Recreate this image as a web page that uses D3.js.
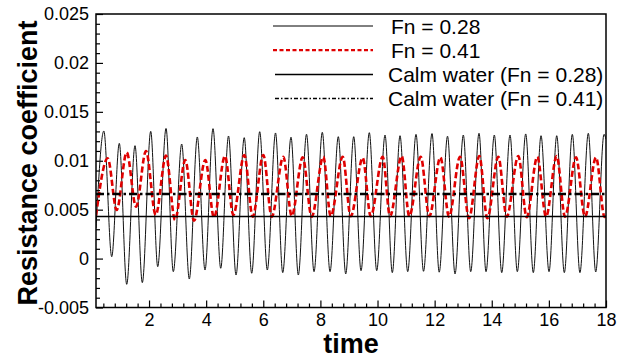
<!DOCTYPE html>
<meta charset='utf-8'>
<html>

<head>
    <title>Resistance coefficient</title>
    <script src="https://d3js.org/d3.v7.min.js"></script>

    <style>
        body {
            padding: 0;
            margin: 0;
            background: #fff;
        }

        svg {
            display: block;
            font-family: "Liberation Sans", Arial, sans-serif;
        }

        .tick text {
            font-size: 18px;
            fill: #000;
        }
    </style>
</head>

<body>
    <svg id="chart" width="625" height="358"></svg>

    <script>
        // extrema: [time, coefficient]
        var fn028 = [
            [0.143, 0.0031],
            [0.417, 0.01304], [0.693, 0.00019], [0.959, 0.01178], [1.218, -0.00263], [1.509, 0.01154],
            [1.765, -0.00246], [2.059, 0.01301], [2.304, -0.00083], [2.595, 0.01330], [2.850, -0.00134],
            [3.144, 0.01171], [3.410, -0.00209], [3.690, 0.01243], [3.960, -0.00117], [4.240, 0.01328],
            [4.510, -0.00099], [4.783, 0.01253], [5.046, -0.00168], [5.333, 0.01236], [5.595, -0.00150],
            [5.875, 0.01297], [6.141, -0.00117], [6.429, 0.01284], [6.681, -0.00144], [6.971, 0.01241],
            [7.227, -0.00168], [7.514, 0.01271], [7.777, -0.00134], [8.067, 0.01291], [8.337, -0.00134],
            [8.627, 0.01246], [8.887, -0.00157], [9.167, 0.01246], [9.422, -0.00124], [9.713, 0.01287],
            [9.972, -0.00124], [10.263, 0.01263], [10.518, -0.00144], [10.788, 0.01256], [11.057, -0.00134],
            [11.348, 0.01270], [11.611, -0.00130], [11.908, 0.01278], [12.160, -0.00139], [12.451, 0.01251],
            [12.714, -0.00157], [13.004, 0.01263], [13.263, -0.00134], [13.554, 0.01281], [13.799, -0.00134],
            [14.090, 0.01263], [14.349, -0.00144], [14.639, 0.01263], [14.895, -0.00134], [15.189, 0.01274],
            [15.455, -0.00144], [15.725, 0.01256], [16.005, -0.00134], [16.275, 0.01256], [16.541, -0.00144],
            [16.821, 0.01270], [17.087, -0.00144], [17.381, 0.01281], [17.640, -0.00137], [17.931, 0.01270],
            [18.0, 0.0122]
        ];

        var fn041 = [
            [0.143, 0.0044],
            [0.553, 0.01025], [0.868, 0.00497], [1.218, 0.01086], [1.544, 0.00530], [1.894, 0.01100],
            [2.234, 0.00446], [2.595, 0.01052], [2.910, 0.00394], [3.270, 0.01008], [3.575, 0.00387],
            [3.971, 0.01008], [4.275, 0.00418], [4.660, 0.01049], [4.951, 0.00446], [5.336, 0.01059],
            [5.630, 0.00428], [6.001, 0.01059], [6.296, 0.00428], [6.702, 0.01041], [6.996, 0.00435],
            [7.381, 0.01035], [7.696, 0.00428], [8.102, 0.01041], [8.361, 0.00432], [8.782, 0.01041],
            [9.062, 0.00432], [9.482, 0.01031], [9.762, 0.00432], [10.182, 0.01041], [10.438, 0.00432],
            [10.847, 0.01049], [11.113, 0.00432], [11.513, 0.01041], [11.814, 0.00432], [12.202, 0.01035],
            [12.504, 0.00428], [12.889, 0.01041], [13.204, 0.00412], [13.565, 0.01049], [13.845, 0.00412],
            [14.230, 0.01041], [14.524, 0.00428], [14.930, 0.01049], [15.224, 0.00422], [15.595, 0.01041],
            [15.900, 0.00428], [16.275, 0.01049], [16.565, 0.00428], [16.950, 0.01035], [17.265, 0.00428],
            [17.651, 0.01035], [17.950, 0.00425], [18.0, 0.0046]
        ];

        var calm028 = 0.0043;
        var calm041 = 0.0066;

        var xDomain = [0.143, 18];
        var yDomain = [-0.005, 0.025];
        var xTicks = [2, 4, 6, 8, 10, 12, 14, 16, 18];
        var xMinorTicks = d3.range(0.4, 18, 0.4).filter(function (t) { return Math.abs(t / 2 - Math.round(t / 2)) > 0.01; });
        var yTicks = [-0.005, 0, 0.005, 0.01, 0.015, 0.02, 0.025];
        var yTickLabels = ['-0.005', '0', '0.005', '0.01', '0.015', '0.02', '0.025'];
        var yMinorTicks = d3.range(-0.004, 0.025, 0.001).filter(function (v) { return Math.abs(v / 0.005 - Math.round(v / 0.005)) > 0.01; });

        var legendItems = [
            { label: 'Fn = 0.28', color: '#000', width: 1, dash: null, x0: 273, tx: 391 },
            { label: 'Fn = 0.41', color: '#e00000', width: 2.2, dash: '4,2.5', x0: 273, tx: 391 },
            { label: 'Calm water (Fn = 0.28)', color: '#000', width: 1.5, dash: null, x0: 275, tx: 388 },
            { label: 'Calm water (Fn = 0.41)', color: '#000', width: 1.5, dash: '4,2,1.5,2', x0: 275, tx: 388 }
        ];

        var margin = { left: 96, right: 19, top: 14, bottom: 50.5 };
        var width = 625 - margin.left - margin.right;
        var height = 358 - margin.top - margin.bottom;

        var svg = d3.select('#chart');
        var g = svg.append('g')
            .attr('transform', 'translate(' + margin.left + ',' + margin.top + ')');

        var x = d3.scaleLinear().domain(xDomain).range([0, width]);
        var y = d3.scaleLinear().domain(yDomain).range([height, 0]);

        g.append('clipPath').attr('id', 'clip')
            .append('rect').attr('width', width).attr('height', height);

        // axes, ticks pointing inward
        var xAxis = g.append('g')
            .attr('transform', 'translate(0,' + height + ')')
            .call(d3.axisBottom(x).tickValues(xTicks).tickSize(-7).tickPadding(4).tickFormat(d3.format('d')));
        g.append('g')
            .attr('transform', 'translate(0,' + height + ')')
            .call(d3.axisBottom(x).tickValues(xMinorTicks).tickSize(-4).tickFormat(''));

        g.append('g')
            .call(d3.axisLeft(y).tickValues(yTicks).tickSize(-7).tickPadding(7)
                .tickFormat(function (d, i) { return yTickLabels[i]; }));
        g.append('g')
            .call(d3.axisLeft(y).tickValues(yMinorTicks).tickSize(-4).tickFormat(''));

        g.selectAll('.domain').remove();
        g.selectAll('.tick line').attr('stroke', '#000').attr('stroke-width', 1.2);
        xAxis.selectAll('.tick text').attr('dy', '0.78em');

        var line = d3.line()
            .x(function (d) { return x(d[0]); })
            .y(function (d) { return y(d[1]); })
            .curve(d3.curveMonotoneX);

        var plot = g.append('g').attr('clip-path', 'url(#clip)');

        plot.append('path')
            .datum(fn028)
            .attr('d', line)
            .attr('fill', 'none')
            .attr('stroke', '#111')
            .attr('stroke-width', 1);

        plot.append('path')
            .datum(fn041)
            .attr('d', line)
            .attr('fill', 'none')
            .attr('stroke', '#e00000')
            .attr('stroke-width', 2.6)
            .attr('stroke-dasharray', '6,3');

        plot.append('line')
            .attr('x1', 0).attr('x2', width)
            .attr('y1', y(calm028)).attr('y2', y(calm028))
            .attr('stroke', '#000')
            .attr('stroke-width', 1.6);

        plot.append('line')
            .attr('x1', 0).attr('x2', width)
            .attr('y1', y(calm041)).attr('y2', y(calm041))
            .attr('stroke', '#000')
            .attr('stroke-width', 2.6)
            .attr('stroke-dasharray', '8,3,2.5,3');

        // frame
        g.append('rect')
            .attr('width', width)
            .attr('height', height)
            .attr('fill', 'none')
            .attr('stroke', '#000')
            .attr('stroke-width', 1.5);

        // legend
        var legend = svg.append('g');
        legendItems.forEach(function (item, i) {
            var ly = 26 + i * 24.2;
            legend.append('line')
                .attr('x1', item.x0).attr('x2', 373)
                .attr('y1', ly).attr('y2', ly)
                .attr('stroke', item.color)
                .attr('stroke-width', item.width)
                .attr('stroke-dasharray', item.dash);
            legend.append('text')
                .attr('x', item.tx)
                .attr('y', ly + 7.5)
                .attr('font-size', 21)
                .text(item.label);
        });

        // axis titles
        svg.append('text')
            .attr('x', 351)
            .attr('y', 353)
            .attr('text-anchor', 'middle')
            .attr('font-size', 27)
            .attr('font-weight', 'bold')
            .text('time');

        svg.append('text')
            .attr('transform', 'translate(37,163) rotate(-90)')
            .attr('text-anchor', 'middle')
            .attr('font-size', 27)
            .attr('font-weight', 'bold')
            .text('Resistance coefficient');
    </script>
</body>

</html>
